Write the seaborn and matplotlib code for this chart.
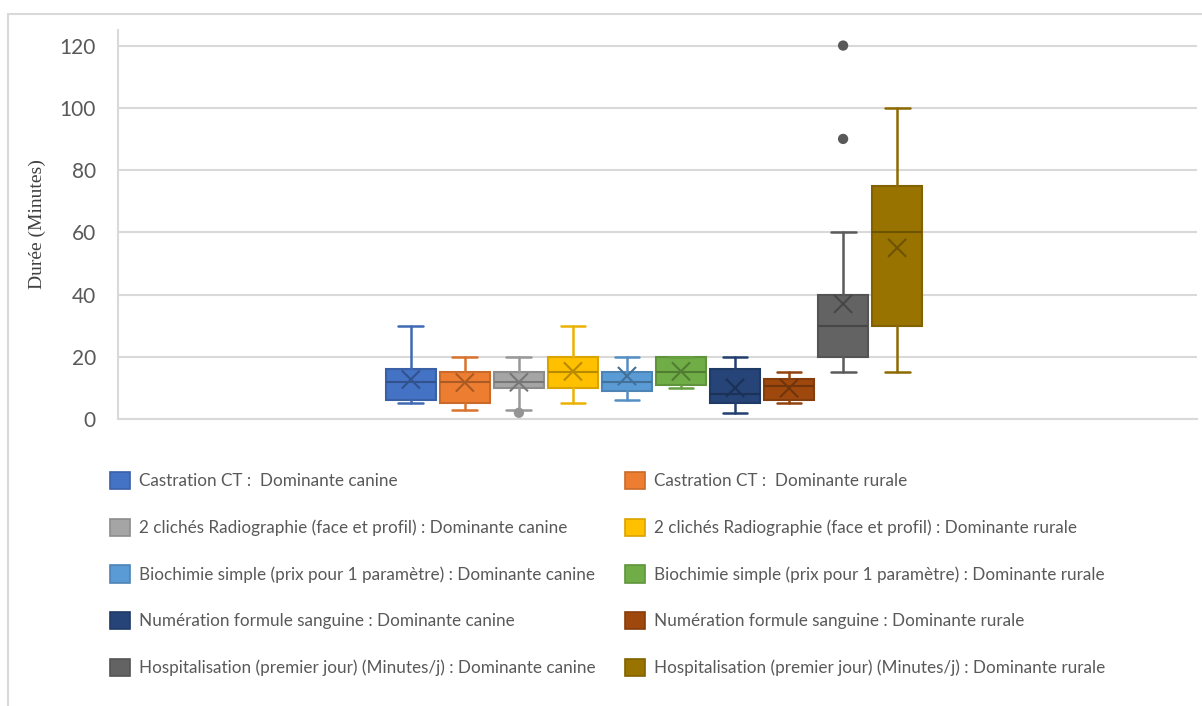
import numpy as np
import pandas as pd
import matplotlib
matplotlib.use("Agg")
import matplotlib.pyplot as plt
import matplotlib.colors as mcolors
from matplotlib.patches import Patch
import seaborn as sns

# series, in Excel order (canine / rurale alternating)
labels = [
    "Castration CT :  Dominante canine",
    "Castration CT :  Dominante rurale",
    "2 clichés Radiographie (face et profil) : Dominante canine",
    "2 clichés Radiographie (face et profil) : Dominante rurale",
    "Biochimie simple (prix pour 1 paramètre) : Dominante canine",
    "Biochimie simple (prix pour 1 paramètre) : Dominante rurale",
    "Numération formule sanguine : Dominante canine",
    "Numération formule sanguine : Dominante rurale",
    "Hospitalisation (premier jour) (Minutes/j) : Dominante canine",
    "Hospitalisation (premier jour) (Minutes/j) : Dominante rurale",
]
colors = ["#4472C4", "#ED7D31", "#A5A5A5", "#FFC000", "#5B9BD5",
          "#70AD47", "#264478", "#9E480E", "#636363", "#997300"]

# box statistics (minutes)
whis_lo = [5, 3, 3, 5, 6, 10, 2, 5, 15, 15]
q1 = [6, 5, 10, 10, 9, 11, 5, 6, 20, 30]
median = [12, 12, 12, 15, 12, 15, 8, 10.5, 30, 60]
q3 = [16, 15, 15, 20, 15, 20, 16, 13, 40, 75]
whis_hi = [30, 20, 20, 30, 20, 20, 20, 15, 60, 100]
means = [12.7, 11.7, 11.8, 15.3, 13.8, 15.3, 10, 9.9, 37, 55]
outliers = [[], [], [2], [], [], [], [], [], [90, 120], []]

yticks = [0, 20, 40, 60, 80, 100, 120]


def darker(c, f):
    r, g, b = mcolors.to_rgb(c)
    return (r * f, g * f, b * f)


sns.set_theme(style="white")
plt.rcParams["font.family"] = ["Lato", "DejaVu Sans"]

fig = plt.figure(figsize=(12.02, 7.06), dpi=100)
ax = fig.add_axes([118 / 1202, 1 - 419 / 706, (1197 - 118) / 1202, (419 - 30) / 706])

pos = np.arange(len(labels))
stats = []
for i in range(len(labels)):
    stats.append(dict(whislo=whis_lo[i], q1=q1[i], med=median[i], q3=q3[i],
                      whishi=whis_hi[i], fliers=[], label=labels[i]))

art = ax.bxp(stats, positions=pos, widths=0.92, capwidths=0.46,
             patch_artist=True, showfliers=False, zorder=3)
for i, c in enumerate(colors):
    art["boxes"][i].set_facecolor(c)
    art["boxes"][i].set_edgecolor(darker(c, 0.85))
    art["boxes"][i].set_linewidth(1.5)
    art["medians"][i].set_color(darker(c, 0.72))
    art["medians"][i].set_linewidth(1.5)
    for ln in art["whiskers"][2 * i:2 * i + 2] + art["caps"][2 * i:2 * i + 2]:
        ln.set_color(darker(c, 0.92))
        ln.set_linewidth(1.8)

# mean markers
df_mean = pd.DataFrame({"pos": pos, "mean": means, "serie": labels})
sns.scatterplot(data=df_mean, x="pos", y="mean", hue="serie",
                palette=[darker(c, 0.72) for c in colors], marker="x",
                s=170, linewidth=1.5, legend=False, ax=ax, zorder=4)

# outlier points
out_rows = [(pos[i], v, labels[i]) for i in range(len(labels)) for v in outliers[i]]
df_out = pd.DataFrame(out_rows, columns=["pos", "val", "serie"])
out_pal = {labels[i]: darker(colors[i], 0.9) for i in range(len(labels))}
sns.scatterplot(data=df_out, x="pos", y="val", hue="serie", palette=out_pal,
                s=55, edgecolor="none", legend=False, ax=ax, zorder=4)

ax.set_xlim(-5.42, 14.55)
ax.set_ylim(0, 125)
ax.set_yticks(yticks)
ax.set_xticks([])
ax.set_xlabel("")
ax.grid(axis="y", color="#d9d9d9", linewidth=1.5, zorder=0)
ax.set_axisbelow(True)
for s in ["top", "right"]:
    ax.spines[s].set_visible(False)
ax.spines["bottom"].set_color("#d9d9d9")
ax.spines["bottom"].set_linewidth(1.5)
ax.spines["left"].set_color("#d9d9d9")
ax.spines["left"].set_linewidth(1.5)
ax.tick_params(axis="y", length=0, pad=16, labelsize=15, labelcolor="#595959")
ax.set_ylabel("Durée (Minutes)", family="Liberation Serif", fontsize=14,
              color="#404040", labelpad=10)

# legend, two columns: canine on the left, rurale on the right
handles = [Patch(facecolor=c, edgecolor=darker(c, 0.85), linewidth=1.2) for c in colors]
for col, x0 in [(0, 103 / 1202), (1, 618 / 1202)]:
    idx = list(range(col, len(labels), 2))
    fig.legend([handles[i] for i in idx], [labels[i] for i in idx],
               loc="upper left", bbox_to_anchor=(x0, 1 - 465 / 706),
               frameon=False, fontsize=12.3, labelcolor="#595959",
               handlelength=1.17, handleheight=1.17, handletextpad=0.55,
               labelspacing=1.72, borderaxespad=0)

# chart area border (top and left edges visible)
fig.add_artist(plt.Line2D([8 / 1202, 8 / 1202], [0, 1 - 14 / 706],
                          color="#d9d9d9", linewidth=1.5))
fig.add_artist(plt.Line2D([8 / 1202, 1], [1 - 14 / 706, 1 - 14 / 706],
                          color="#d9d9d9", linewidth=1.5))

fig.savefig("out.png", dpi=100)
